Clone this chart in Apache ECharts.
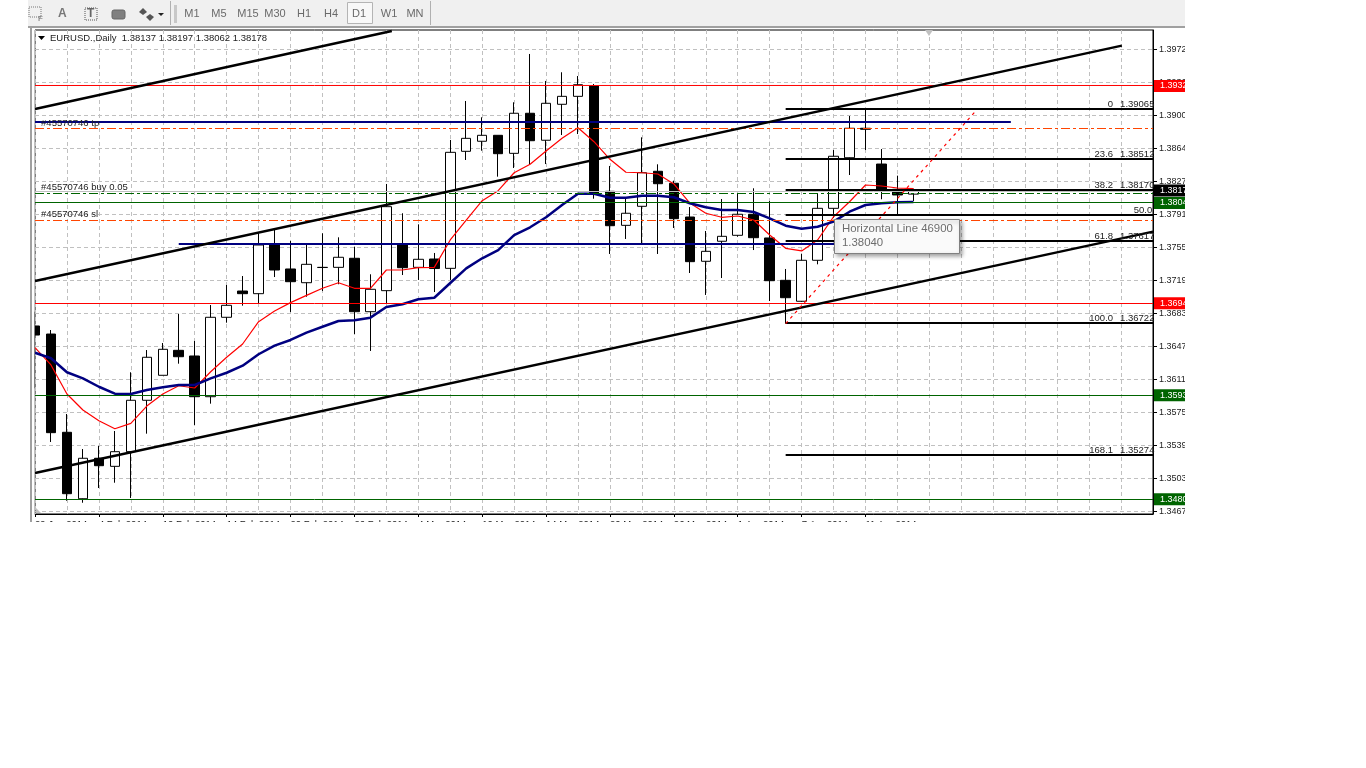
<!DOCTYPE html>
<html>
<head>
<meta charset="utf-8">
<title>EURUSD Daily</title>
<script src="https://cdn.jsdelivr.net/npm/echarts@6/dist/echarts.min.js"></script>
<style>
  html, body { margin: 0; padding: 0; background: #fff; }
  #chart { width: 1366px; height: 768px; }
</style>
</head>
<body>
<div id="chart"></div>
<script>
// bars
const dates = ['29 Jan 2014','30 Jan 2014','31 Jan 2014','3 Feb 2014','4 Feb 2014','5 Feb 2014','6 Feb 2014','7 Feb 2014',
  '10 Feb 2014','11 Feb 2014','12 Feb 2014','13 Feb 2014','14 Feb 2014','17 Feb 2014','18 Feb 2014','19 Feb 2014',
  '20 Feb 2014','21 Feb 2014','24 Feb 2014','25 Feb 2014','26 Feb 2014','27 Feb 2014','28 Feb 2014','3 Mar 2014',
  '4 Mar 2014','5 Mar 2014','6 Mar 2014','7 Mar 2014','10 Mar 2014','11 Mar 2014','12 Mar 2014','13 Mar 2014',
  '14 Mar 2014','17 Mar 2014','18 Mar 2014','19 Mar 2014','20 Mar 2014','21 Mar 2014','24 Mar 2014','25 Mar 2014',
  '26 Mar 2014','27 Mar 2014','28 Mar 2014','31 Mar 2014','1 Apr 2014','2 Apr 2014','3 Apr 2014','4 Apr 2014',
  '7 Apr 2014','8 Apr 2014','9 Apr 2014','10 Apr 2014','11 Apr 2014','14 Apr 2014','15 Apr 2014','16 Apr 2014'];
const emptySlots = 15; // free space right of the last bar

const opens = [1.36696,1.36608,1.35534,1.34808,1.35250,1.35162,1.35322,1.35884,1.36157,1.36430,
  1.36368,1.35923,1.36791,1.37078,1.37049,1.37581,1.37319,1.37169,1.37335,1.37337,
  1.37436,1.36852,1.37082,1.37581,1.37337,1.37428,1.37326,1.38605,1.38715,1.38780,
  1.38583,1.39021,1.38726,1.39119,1.39206,1.39319,1.38168,1.37796,1.38004,1.38387,
  1.38256,1.37887,1.37403,1.37622,1.37687,1.37917,1.37658,1.37195,1.36966,1.37414,
  1.37982,1.38535,1.38857,1.38466,1.38190,1.38137];
const closes = [1.36597,1.35530,1.34863,1.35250,1.35169,1.35322,1.35884,1.36354,1.36441,1.36360,
  1.35923,1.36791,1.36922,1.37049,1.37581,1.37308,1.37180,1.37370,1.37337,1.37447,
  1.36852,1.37097,1.38000,1.37333,1.37425,1.37324,1.38594,1.38747,1.38780,1.38579,
  1.39021,1.38721,1.39130,1.39206,1.39333,1.38146,1.37792,1.37928,1.38371,1.38251,
  1.37869,1.37399,1.37512,1.37676,1.37917,1.37661,1.37191,1.37005,1.37414,1.37982,
  1.38551,1.38857,1.38846,1.38190,1.38128,1.38178];
const lows = [1.36015,1.35428,1.34786,1.34764,1.34925,1.34983,1.34816,1.35519,1.36157,1.36284,
  1.35614,1.35847,1.36732,1.36918,1.36947,1.37231,1.36849,1.37016,1.37078,1.37152,
  1.36608,1.36423,1.36944,1.37253,1.37199,1.37067,1.37199,1.38510,1.38612,1.38328,
  1.38423,1.38456,1.38466,1.38783,1.38794,1.38087,1.37483,1.37647,1.37592,1.37483,
  1.37767,1.37275,1.37035,1.37220,1.37672,1.37526,1.36969,1.36722,1.36958,1.37370,
  1.37876,1.38346,1.38619,1.38081,1.37909,1.38062];
const highs = [1.36852,1.36652,1.35734,1.35351,1.35384,1.35548,1.36190,1.36433,1.36510,1.36827,
  1.36532,1.36925,1.37144,1.37242,1.37709,1.37745,1.37625,1.37589,1.37709,1.37665,
  1.37563,1.37261,1.38248,1.37928,1.37807,1.37494,1.38729,1.39155,1.38977,1.38780,
  1.39141,1.39669,1.39374,1.39469,1.39428,1.39341,1.38445,1.38098,1.38758,1.38463,
  1.38284,1.37996,1.37734,1.38084,1.38146,1.38201,1.38062,1.37319,1.37486,1.38146,
  1.38619,1.38991,1.39065,1.38630,1.38339,1.38197];

// moving averages
const fastMa = [1.36459,1.36270,1.35953,1.35778,1.35661,1.35573,1.35632,1.35821,1.35953,1.36043,
  1.36018,1.36196,1.36354,1.36499,1.36743,1.36860,1.36951,1.37031,1.37108,1.37169,
  1.37108,1.37108,1.37308,1.37308,1.37333,1.37337,1.37636,1.37854,1.38065,1.38175,
  1.38371,1.38463,1.38609,1.38747,1.38863,1.38710,1.38518,1.38376,1.38371,1.38357,
  1.38248,1.38040,1.37928,1.37884,1.37898,1.37854,1.37690,1.37545,1.37516,1.37636,
  1.37890,1.38054,1.38237,1.38226,1.38204,1.38197];
const slowMa = [1.36404,1.36343,1.36190,1.36124,1.36032,1.35956,1.35953,1.35996,1.36026,1.36051,
  1.36051,1.36124,1.36185,1.36262,1.36387,1.36481,1.36543,1.36623,1.36688,1.36750,
  1.36758,1.36787,1.36903,1.36933,1.36988,1.37005,1.37166,1.37326,1.37436,1.37526,
  1.37690,1.37775,1.37884,1.38018,1.38142,1.38142,1.38098,1.38098,1.38120,1.38120,
  1.38103,1.38037,1.37993,1.37964,1.37964,1.37942,1.37873,1.37792,1.37759,1.37781,
  1.37836,1.37945,1.38018,1.38037,1.38048,1.38051];

// price axis
const priceMin = 1.34641;
const priceMax = 1.39931;
const priceTicks = [1.39720,1.39359,1.38999,1.38638,1.38277,1.37917,1.37556,1.37196,1.36835,1.36474,1.36114,1.35753,1.35393,1.35032,1.34671];
const priceTickLabels = ['1.3972','1.3936','1.3900','1.3864','1.3827','1.3791','1.3755','1.3719','1.3683','1.3647','1.3611','1.3575','1.3539','1.3503','1.3467'];

// horizontal objects
const redLevels = [1.393244,1.369416];
const greenLevels = [1.380456,1.359361,1.347994];
const bidLine = 1.381658;
const buyLine = 1.381439;
const orderLevels = [1.388544,1.378488];
const tpLine = { from: 0, to: 61.1, price: 1.389254 };
const supportLine = { from: 9, to: 57.8, price: 1.37592 };

// tags on the price axis
const tagPrices = [1.39320,1.38178,1.38040,1.36944,1.35938,1.34802];
const tagTexts = ['1.3932','1.3817','1.3804','1.3694','1.3593','1.3480'];
const tagColors = ['#ff0000','#000000','#006400','#ff0000','#006400','#006400'];

// trend channel, [bar, price] ends
const trendLines = [
  [[0,1.39068],[22.34,1.39920]],
  [[0,1.37188],[68.05,1.39760]],
  [[0,1.35089],[70,1.37727]]
];

// fibonacci
const fibStart = 47;
const fibEnd = 70;
const fibPrices = [1.390675,1.38521,1.381822,1.379089,1.376248,1.367285,1.352857];
const fibNames = ['0','23.6','38.2','50.0','61.8','100.0','168.1'];
const fibValues = ['1.39065','1.38512','1.38170','','1.37617','1.36722','1.35274'];
const fibDiagonal = [[47,1.36722],[58.9,1.39046]];

// order labels
const orderTexts = ['#45570746 tp','#45570746 buy 0.05','#45570746 sl'];
const orderTextPrices = [1.38915,1.38207,1.37915];

const timeframes = ['M1','M5','M15','M30','H1','H4','D1','W1','MN'];
const timeframeX = [192,219,248,275,304,331,359,389,415];

const uiFont = '"Liberation Sans", Arial, sans-serif';
const categories = dates.concat(new Array(emptySlots).fill(''));
const candles = dates.map((d, i) => [opens[i], closes[i], lows[i], highs[i]]);

function segment(points, color, width, type, z) {
  return {
    type: 'line', xAxisIndex: 1, yAxisIndex: 0, data: points, silent: true,
    symbol: 'none', animation: false, z: z || 3,
    lineStyle: { color: color, width: width, type: type || 'solid' }
  };
}
function level(price, color, width, type) {
  return segment([[0, price], [70, price]], color, width, type);
}

const dashDot = [9, 3, 3, 3];
const overlaySeries = [];
overlaySeries.push(level(bidLine, '#c0c0c0', 1));
redLevels.forEach(p => overlaySeries.push(level(p, '#ff0000', 1)));
greenLevels.forEach(p => overlaySeries.push(level(p, '#006400', 1)));
overlaySeries.push(level(buyLine, '#006400', 1, dashDot));
orderLevels.forEach(p => overlaySeries.push(level(p, '#ff4500', 1, dashDot)));
overlaySeries.push(segment([[tpLine.from, tpLine.price], [tpLine.to, tpLine.price]], '#000080', 2));
overlaySeries.push(segment([[supportLine.from, supportLine.price], [supportLine.to, supportLine.price]], '#000080', 2));
trendLines.forEach(t => overlaySeries.push(segment(t, '#000000', 2.5)));
fibPrices.forEach(p => overlaySeries.push(segment([[fibStart, p], [fibEnd, p]], '#000000', 2)));
overlaySeries.push(segment(fibDiagonal, '#ff0000', 1.2, [3, 4]));

// text anchored on bar/price through an invisible scatter
function textSeries(items) {
  return {
    type: 'scatter', xAxisIndex: 1, yAxisIndex: 0, symbolSize: 0, silent: true,
    clip: false, animation: false, z: 4, data: items, itemStyle: { opacity: 1 }
  };
}
const chartText = { color: '#222222', fontFamily: uiFont, fontSize: 9.5 };

const orderItems = orderTexts.map((t, i) => ({
  value: [0.38, orderTextPrices[i]],
  label: Object.assign({ show: true, position: 'right', distance: 0, formatter: t }, chartText)
}));
const fibItems = [];
fibPrices.forEach((p, i) => {
  if (!fibValues[i]) {
    fibItems.push({
      value: [69.95, p],
      label: Object.assign({ show: true, position: 'left', distance: 0, offset: [0, -5], formatter: fibNames[i] }, chartText)
    });
    return;
  }
  fibItems.push({
    value: [67.5, p],
    label: Object.assign({ show: true, position: 'left', distance: 0, offset: [0, -5], formatter: fibNames[i] }, chartText)
  });
  fibItems.push({
    value: [67.94, p],
    label: Object.assign({ show: true, position: 'right', distance: 0, offset: [0, -5], formatter: fibValues[i] }, chartText)
  });
});
const tagItems = tagPrices.map((p, i) => ({
  value: [70, p],
  label: {
    show: true, position: 'right', distance: 1, formatter: tagTexts[i], color: '#ffffff',
    backgroundColor: tagColors[i], padding: [2, 14, 1, 6], fontFamily: uiFont, fontSize: 9
  }
}));

// toolbar and other window furniture
const toolbar = [
  { type: 'rect', z: 90, shape: { x: 28, y: 0, width: 1157, height: 26 }, style: { fill: '#f0f0f0' } },
  { type: 'rect', z: 90, shape: { x: 28, y: 26, width: 1157, height: 2 }, style: { fill: '#a0a0a0' } },
  { type: 'rect', z: 90, shape: { x: 30, y: 28, width: 2, height: 494 }, style: { fill: '#a0a0a0' } },
  { type: 'rect', z: 91, shape: { x: 29, y: 7, width: 12, height: 10 }, style: { fill: 'none', stroke: '#777', lineDash: [1, 1] } },
  { type: 'text', z: 91, style: { x: 38, y: 15, text: 'F', fill: '#666', font: '8px ' + uiFont } },
  { type: 'text', z: 91, style: { x: 58, y: 8, text: 'A', fill: '#777', font: 'bold 12px ' + uiFont } },
  { type: 'rect', z: 91, shape: { x: 85, y: 8, width: 12, height: 12 }, style: { fill: 'none', stroke: '#555', lineDash: [1, 1] } },
  { type: 'text', z: 91, style: { x: 87, y: 8, text: 'T', fill: '#666', font: 'bold 12px ' + uiFont } },
  { type: 'rect', z: 91, shape: { x: 112, y: 10, width: 13, height: 9, r: 2 }, style: { fill: '#808080', stroke: '#666' } },
  { type: 'polygon', z: 91, shape: { points: [[143, 8], [147, 12], [143, 15], [139, 12]] }, style: { fill: '#555' } },
  { type: 'polygon', z: 91, shape: { points: [[150, 14], [154, 17], [150, 21], [146, 17]] }, style: { fill: '#555' } },
  { type: 'polygon', z: 91, shape: { points: [[158, 13], [164, 13], [161, 16]] }, style: { fill: '#222' } },
  { type: 'rect', z: 91, shape: { x: 170, y: 1, width: 1, height: 24 }, style: { fill: '#b0b0b0' } },
  { type: 'rect', z: 91, shape: { x: 174, y: 5, width: 3, height: 18 }, style: { fill: '#c8c8c8' } },
  { type: 'rect', z: 91, shape: { x: 430, y: 1, width: 1, height: 24 }, style: { fill: '#b0b0b0' } },
  { type: 'rect', z: 91, shape: { x: 347.5, y: 2.5, width: 25, height: 21 }, style: { fill: '#f8f8f8', stroke: '#b4b4b4' } }
];
timeframes.forEach((t, i) => {
  toolbar.push({
    type: 'text', z: 92,
    style: { x: timeframeX[i], y: 14, text: t, fill: '#6a6a6a', font: '11px ' + uiFont, align: 'center', verticalAlign: 'middle' }
  });
});
const furniture = [
  // cuts the picture off where the screenshot ends
  { type: 'rect', z: 80, shape: { x: 1185, y: 0, width: 181, height: 768 }, style: { fill: '#ffffff' } },
  { type: 'rect', z: 80, shape: { x: 0, y: 522, width: 1366, height: 246 }, style: { fill: '#ffffff' } },
  // keeps the half bar out of the gap left of the frame
  { type: 'rect', z: 80, shape: { x: 32, y: 28, width: 2.5, height: 494 }, style: { fill: '#ffffff' } },
  // chart shift marker and corner marker
  { type: 'polygon', z: 60, shape: { points: [[925, 30], [933, 30], [929, 36]] }, style: { fill: '#c0c0c0' } },
  { type: 'polygon', z: 60, shape: { points: [[36, 508], [36, 513], [41, 513]] }, style: { fill: '#c0c0c0' } },
  { type: 'polygon', z: 60, shape: { points: [[38, 36], [45, 36], [41.5, 40]] }, style: { fill: '#000' } },
  // the object tooltip
  {
    type: 'rect', z: 70, shape: { x: 834.5, y: 219.5, width: 125, height: 34 },
    style: { fill: '#fafafa', stroke: '#808080', lineWidth: 1, shadowBlur: 4, shadowOffsetX: 2, shadowOffsetY: 2, shadowColor: 'rgba(0,0,0,0.35)' }
  },
  { type: 'text', z: 71, style: { x: 842, y: 229, text: 'Horizontal Line 46900', fill: '#6d6d6d', font: '11.4px ' + uiFont, verticalAlign: 'middle' } },
  { type: 'text', z: 71, style: { x: 842, y: 243, text: '1.38040', fill: '#6d6d6d', font: '11.4px ' + uiFont, verticalAlign: 'middle' } }
];

const option = {
  backgroundColor: '#ffffff',
  animation: false,
  title: {
    text: 'EURUSD.,Daily  1.38137 1.38197 1.38062 1.38178',
    left: 50, top: 33, padding: 0,
    textStyle: { color: '#222222', fontFamily: uiFont, fontSize: 9.5, fontWeight: 'normal' }
  },
  grid: { left: 35, right: 213, top: 30, bottom: 254, show: true, backgroundColor: '#ffffff', borderColor: '#000000', borderWidth: 1 },
  xAxis: [
    {
      type: 'category', data: categories, boundaryGap: false,
      axisLine: { onZero: false, lineStyle: { color: '#000000' } },
      axisTick: { length: 3, lineStyle: { color: '#000000' }, interval: (i, name) => i % 4 === 0 && name !== '' },
      axisLabel: {
        color: '#222222', fontFamily: uiFont, fontSize: 9.5, align: 'left', margin: 5, showMinLabel: true, hideOverlap: false,
        interval: (i, name) => i % 4 === 0 && name !== ''
      },
      splitLine: { show: true, interval: (i) => i % 2 === 0, lineStyle: { color: '#c0c0c0', type: [4, 3], width: 1 } }
    },
    { type: 'value', min: 0, max: 70, show: false, splitLine: { show: false } }
  ],
  yAxis: {
    type: 'value', position: 'right', min: priceMin, max: priceMax, scale: true,
    axisLine: { show: true, onZero: false, lineStyle: { color: '#000000' } },
    axisTick: { show: true, length: 4, lineStyle: { color: '#000000' }, customValues: priceTicks },
    axisLabel: {
      color: '#222222', fontFamily: uiFont, fontSize: 9, margin: 6,
      customValues: priceTicks,
      formatter: v => priceTickLabels[priceTicks.indexOf(v)]
    },
    splitLine: { show: true, lineStyle: { color: '#c0c0c0', type: [4, 3], width: 1 } }
  },
  graphic: { elements: furniture.concat(toolbar) },
  series: [
    {
      type: 'candlestick', xAxisIndex: 0, yAxisIndex: 0, data: candles, barWidth: 10, silent: true,
      itemStyle: { color: '#ffffff', color0: '#000000', borderColor: '#000000', borderColor0: '#000000', borderColorDoji: '#000000', borderWidth: 1 }
    },
    {
      type: 'line', xAxisIndex: 0, yAxisIndex: 0, data: fastMa, symbol: 'none', silent: true,
      lineStyle: { color: '#ff0000', width: 1.2 }
    },
    {
      type: 'line', xAxisIndex: 0, yAxisIndex: 0, data: slowMa, symbol: 'none', silent: true,
      lineStyle: { color: '#000080', width: 2.5 }
    }
  ].concat(overlaySeries, [textSeries(orderItems), textSeries(fibItems), textSeries(tagItems)])
};

const chart = echarts.init(document.getElementById('chart'));
chart.setOption(option);
</script>
</body>
</html>
